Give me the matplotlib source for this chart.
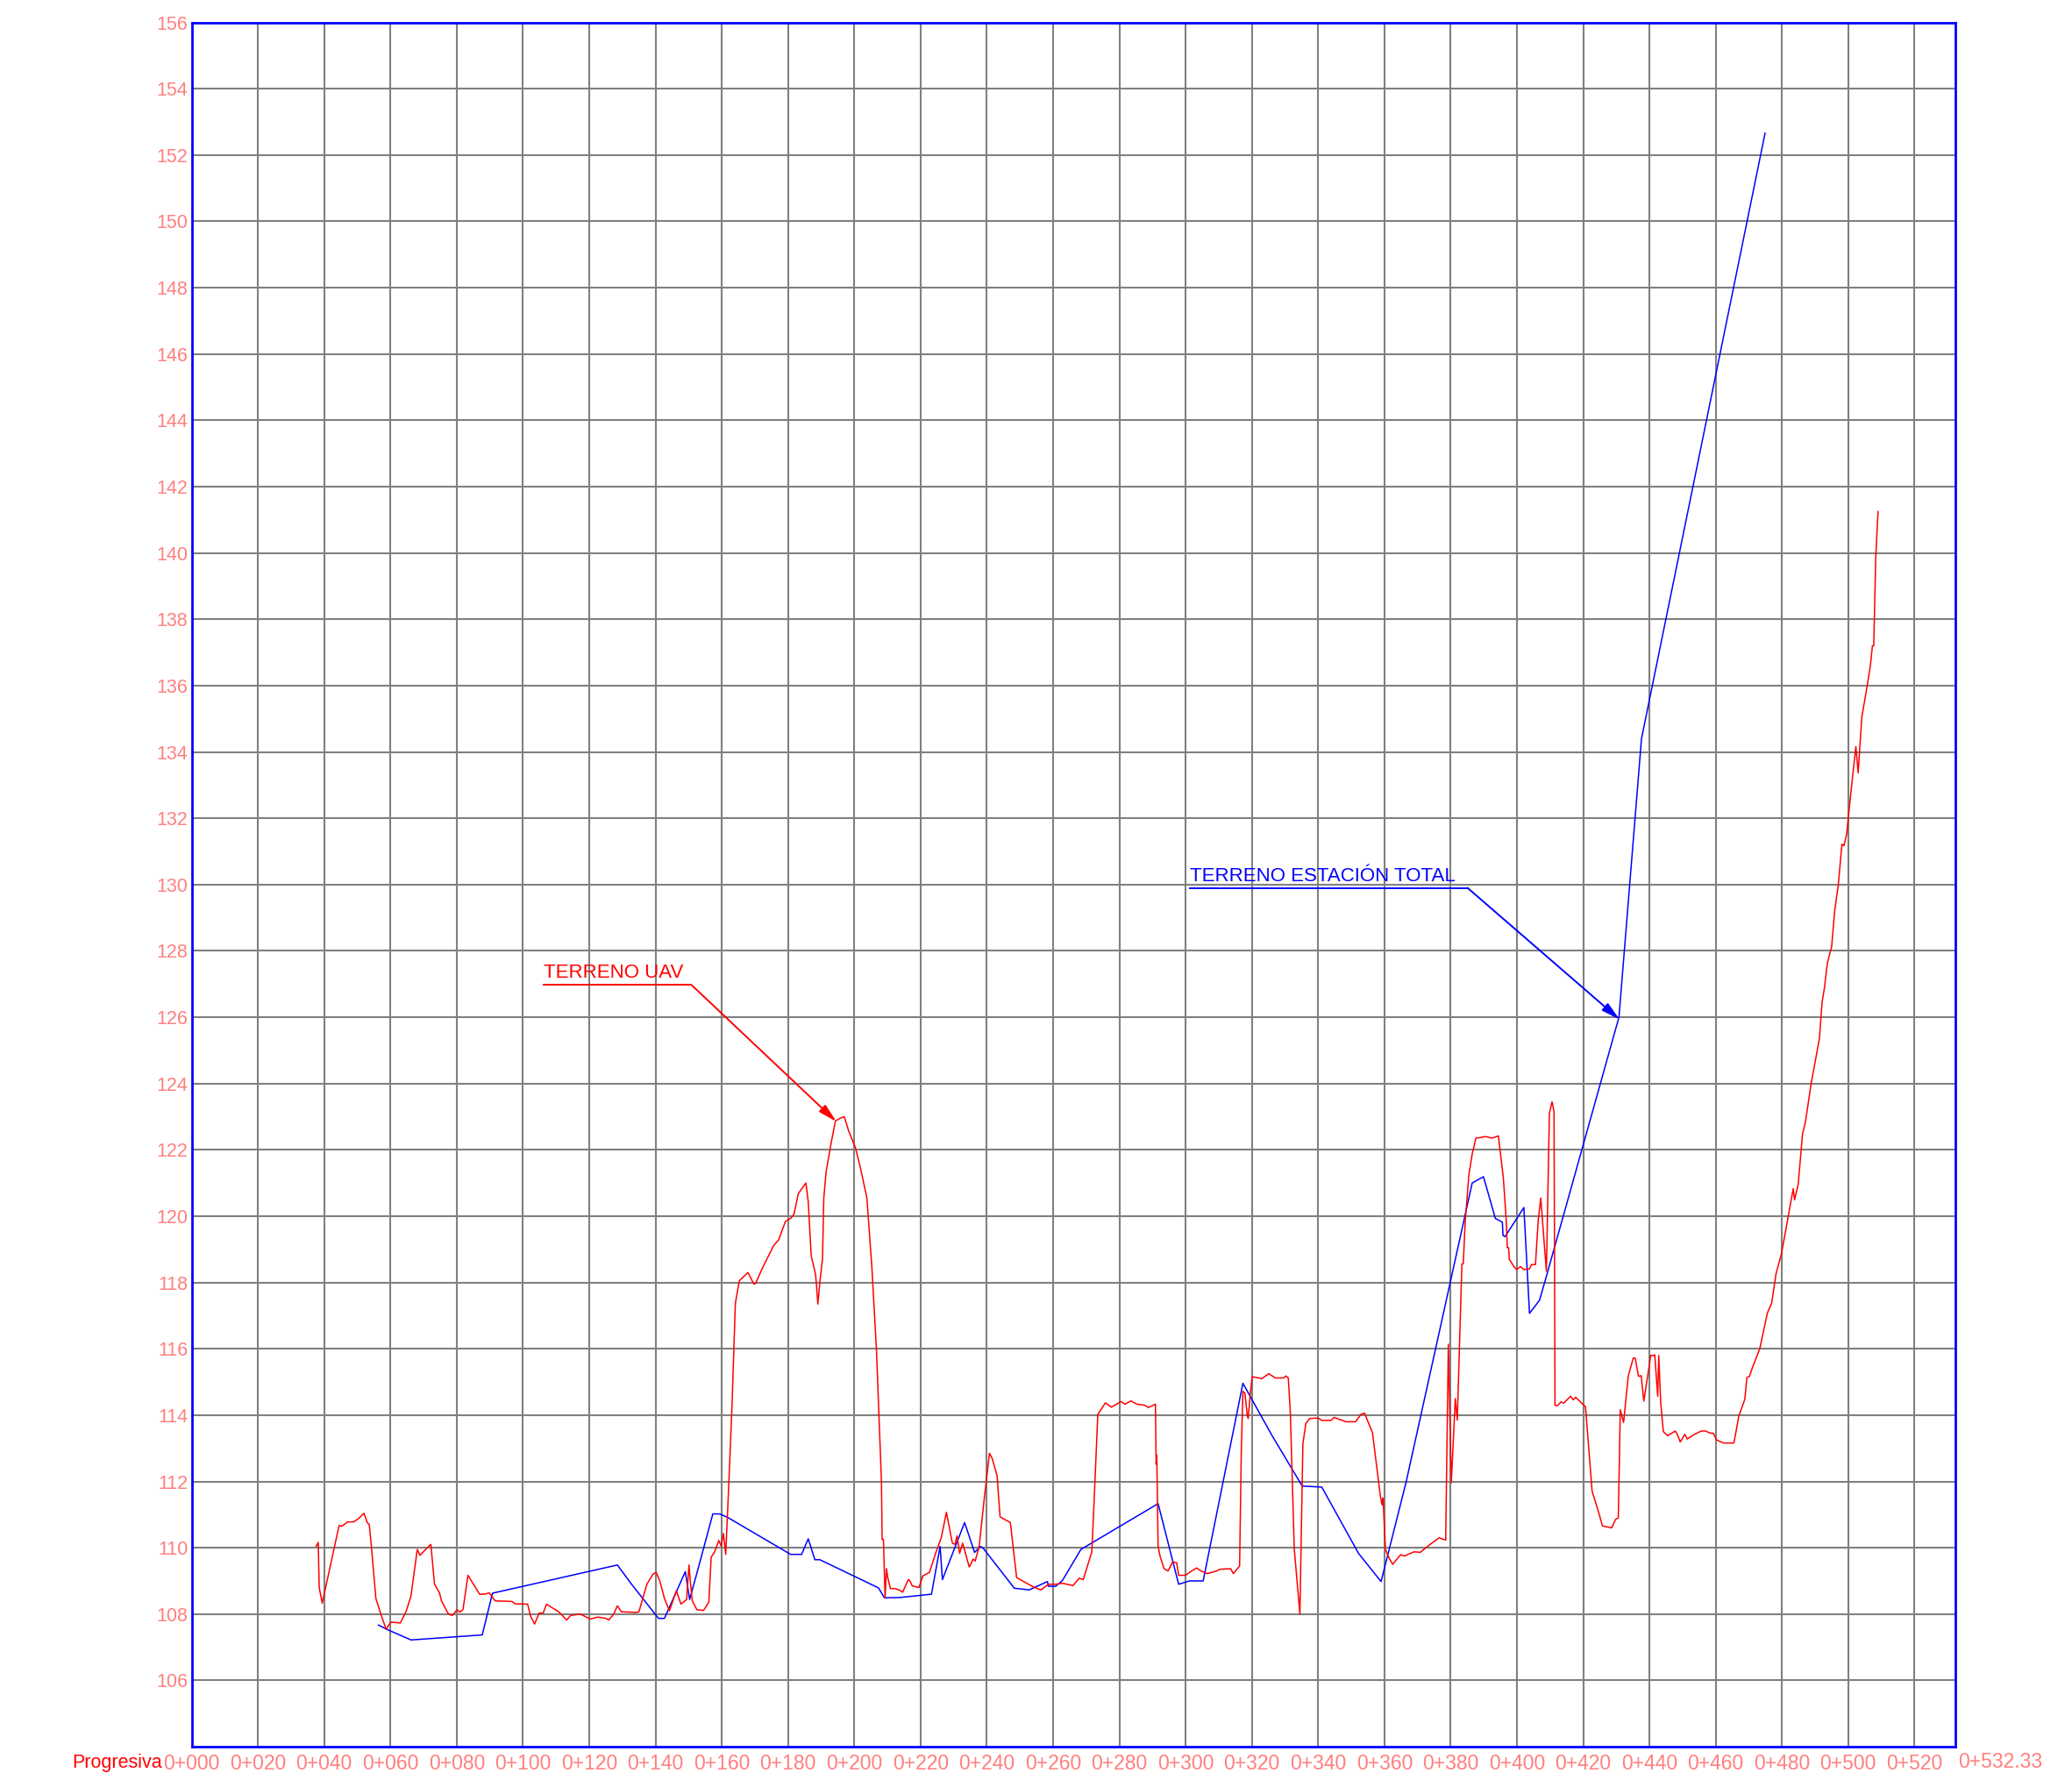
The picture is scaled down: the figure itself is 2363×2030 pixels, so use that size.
import matplotlib
matplotlib.use("Agg")
import matplotlib.pyplot as plt
import numpy as np

plt.rcParams['font.family'] = ['Liberation Sans', 'DejaVu Sans']

# Terreno UAV (red): progresiva [m], cota [m]
uav_x = [37.6, 38.2, 38.5, 39.4, 44.5, 45.3, 47.1, 48.9, 50.6, 52.0, 53.0, 53.6, 54.2, 55.6,
         57.1, 58.7, 59.5, 60.3, 63.0, 64.8, 66.2, 68.1, 68.9, 71.6, 72.2, 73.3, 74.8, 75.4,
         77.5, 78.7, 80.1, 81.0, 81.9, 83.4, 86.9, 88.4, 89.8, 91.6, 96.7, 97.6, 101.4, 102.3,
         103.5, 104.9, 106.1, 107.1, 110.9, 113.2, 114.4, 117.3, 120.3, 122.6, 125.0, 125.9,
         127.4, 128.5, 129.7, 134.2, 135.0, 137.4, 139.2, 140.2, 141.3, 142.7, 144.2, 146.3,
         147.7, 149.4, 150.1, 150.6, 151.1, 152.5, 154.5, 156.1, 156.8, 157.8, 159.1, 159.8,
         160.5, 161.2, 162.2, 163.1, 164.1, 165.3, 167.9, 169.7, 170.2, 172.3, 173.6, 175.7,
         177.2, 179.2, 181.0, 181.8, 183.1, 185.4, 186.1, 187.0, 188.3, 188.6, 189.0, 189.6,
         190.4, 190.8, 191.5, 193.0, 194.3, 195.9, 197.0, 198.3, 200.3, 201.8, 203.8, 205.3,
         206.7, 208.2, 208.4, 208.8, 209.3, 209.7, 210.1, 210.9, 212.3, 213.5, 214.6, 216.3,
         216.8, 217.5, 219.5, 220.7, 222.7, 224.7, 226.3, 227.8, 229.6, 230.4, 231.0, 231.8,
         232.7, 234.7, 235.9, 236.5, 237.7, 239.2, 240.8, 241.6, 243.1, 244.0, 247.1, 249.0,
         254.0, 256.3, 258.7, 260.8, 262.8, 266.0, 267.9, 269.1, 271.7, 272.5, 273.5, 275.8,
         277.6, 280.5, 281.7, 283.5, 285.3, 287.6, 288.8, 290.9, 291.1, 291.3, 291.7, 292.3,
         293.5, 294.7, 296.1, 297.3, 297.9, 300.0, 301.8, 303.3, 304.7, 306.5, 309.4, 310.3,
         313.6, 314.4, 316.3, 316.8, 317.3, 317.9, 318.6, 318.9, 319.5, 320.1, 323.0, 325.1,
         327.1, 329.5, 330.3, 331.0, 331.6, 332.8, 334.5, 335.4, 336.3, 337.5, 340.1, 341.1,
         343.9, 344.8, 348.4, 351.3, 352.9, 354.0, 356.4, 358.8, 359.3, 359.6, 360.3, 360.9,
         361.6, 362.5, 364.9, 366.0, 369.0, 370.8, 372.0, 373.8, 376.5, 378.5, 379.3, 380.2,
         381.4, 382.0, 383.4, 383.8, 384.4, 385.5, 386.5, 387.6, 388.9, 390.3, 391.5, 392.4,
         394.4, 395.9, 396.8, 397.1, 397.5, 397.7, 399.1, 399.9, 401.1, 402.1, 403.8, 404.4,
         405.6, 406.4, 407.2, 408.0, 408.9, 409.8, 410.6, 411.2, 411.5, 412.3, 413.3, 414.1,
         416.2, 417.0, 417.7, 420.7, 422.7, 424.7, 425.8, 428.6, 429.8, 430.6, 431.2, 432.2,
         433.6, 435.1, 435.7, 436.7, 437.5, 438.3, 440.4, 441.3, 441.6, 442.5, 442.8, 443.4,
         444.2, 445.5, 447.8, 448.5, 449.3, 450.7, 451.4, 453.4, 455.6, 457.0, 458.2, 459.3,
         460.3, 462.3, 463.5, 465.5, 467.0, 468.8, 469.4, 470.2, 471.1, 473.3, 475.6, 476.9,
         478.2, 479.8, 481.2, 483.4, 483.8, 484.9, 486.2, 487.1, 488.8, 491.3, 492.1, 492.8,
         493.7, 495.0, 495.9, 497.0, 498.1, 498.7, 499.5, 500.8, 502.3, 503.0, 504.1, 505.7,
         506.7, 507.3, 507.7, 508.3, 509.0]
uav_z = [110.05, 110.16, 108.8, 108.33, 110.67, 110.65, 110.78, 110.78, 110.9, 111.04, 110.76,
         110.7, 110.1, 108.47, 108.0, 107.54, 107.67, 107.76, 107.73, 108.1, 108.55, 109.95,
         109.77, 110.05, 110.1, 108.9, 108.64, 108.4, 108.0, 107.96, 108.13, 108.06, 108.14,
         109.17, 108.6, 108.6, 108.64, 108.4, 108.38, 108.31, 108.3, 107.94, 107.7, 108.03,
         108.03, 108.3, 108.06, 107.82, 107.96, 108.0, 107.85, 107.91, 107.87, 107.82, 108.0,
         108.25, 108.07, 108.05, 108.07, 108.9, 109.2, 109.26, 109.0, 108.47, 108.1, 108.7,
         108.3, 108.44, 109.48, 108.9, 108.4, 108.13, 108.11, 108.36, 109.72, 109.86, 110.22,
         110.05, 110.43, 109.8, 112.1, 114.3, 117.37, 118.05, 118.3, 117.95, 117.97, 118.44,
         118.7, 119.12, 119.29, 119.84, 119.95, 120.06, 120.68, 121.0, 120.44, 118.8, 118.25,
         117.92, 117.35, 118.0, 118.7, 120.55, 121.34, 122.2, 122.87, 122.96, 123.0, 122.57,
         122.08, 121.48, 120.55, 118.47, 115.95, 112.0, 110.25, 110.25, 108.49, 109.37, 109.1,
         108.77, 108.77, 108.73, 108.66, 109.04, 109.0, 108.85, 108.8, 109.15, 109.26, 109.88,
         110.32, 111.07, 110.14, 110.1, 110.36, 109.83, 110.14, 109.42, 109.66, 109.6, 110.05,
         111.46, 112.85, 112.7, 112.17, 110.93, 110.76, 109.1, 108.82, 108.73, 108.9, 108.9,
         108.93, 108.86, 109.08, 109.04, 109.88, 111.68, 114.02, 114.37, 114.24, 114.41, 114.33,
         114.43, 114.33, 114.3, 114.23, 114.33, 112.52, 112.8, 110.05, 109.74, 109.37, 109.3,
         109.57, 109.55, 109.17, 109.17, 109.3, 109.39, 109.3, 109.22, 109.3, 109.35, 109.37,
         109.22, 109.45, 112.87, 114.72, 114.66, 114.0, 113.9, 114.63, 115.16, 115.1, 115.25,
         115.12, 115.12, 115.18, 115.12, 114.1, 109.96, 108.0, 113.14, 113.75, 113.9, 113.91,
         113.84, 113.84, 113.93, 113.8, 113.8, 114.02, 114.06, 113.47, 111.55, 111.29, 111.5,
         109.96, 109.8, 109.66, 109.5, 109.79, 109.75, 109.88, 109.86, 109.96, 110.1, 110.3,
         110.23, 116.14, 111.96, 114.5, 113.85, 118.56, 118.56, 119.84, 121.25, 121.87, 122.35,
         122.37, 122.4, 122.38, 122.35, 122.42, 121.16, 119.84, 119.05, 119.05, 118.7, 118.48,
         118.39, 118.48, 118.39, 118.41, 118.54, 118.54, 119.84, 120.55, 119.49, 118.34, 123.1,
         123.45, 123.15, 114.29, 114.29, 114.4, 114.36, 114.57, 114.46, 114.54, 114.25, 111.7,
         111.06, 110.66, 110.6, 110.86, 110.9, 114.16, 113.78, 115.17, 115.72, 115.72, 115.17,
         115.19, 114.42, 115.8, 115.8, 115.82, 114.57, 115.8, 114.38, 113.5, 113.38, 113.52,
         113.4, 113.19, 113.42, 113.28, 113.41, 113.52, 113.52, 113.46, 113.45, 113.25, 113.16,
         113.16, 113.16, 113.98, 114.48, 115.13, 115.17, 115.44, 116.0, 117.08, 117.38, 118.26,
         118.85, 119.61, 120.83, 120.49, 120.96, 122.48, 122.85, 124.0, 125.35, 126.45, 126.87,
         127.63, 128.13, 129.2, 129.99, 131.22, 131.17, 131.51, 132.78, 134.16, 133.37, 135.05,
         135.98, 136.62, 137.2, 137.2, 139.86, 141.25]

# Terreno estacion total (blue)
et_x = [56.4, 58.9, 66.2, 87.7, 90.8, 128.5, 132.7, 140.9, 142.7, 149.0, 150.3, 153.0, 157.3,
        159.4, 161.7, 180.8, 184.1, 186.1, 188.1, 189.6, 207.3, 209.1, 213.8, 223.3, 225.9,
        226.6, 233.3, 236.3, 238.1, 238.8, 248.3, 252.8, 258.3, 258.6, 260.8, 262.8, 268.4,
        291.7, 297.9, 301.2, 305.3, 317.3, 326.0, 335.2, 341.1, 352.2, 359.0, 366.6, 386.5,
        389.9, 393.5, 395.6, 395.8, 396.4, 402.1, 403.8, 406.8, 408.6, 430.8, 437.6, 474.9]
et_z = [107.67, 107.54, 107.22, 107.37, 108.63, 109.48, 108.91, 107.87, 107.87, 109.28, 108.44,
        109.42, 111.02, 111.02, 110.92, 109.8, 109.8, 110.27, 109.64, 109.64, 108.79, 108.49,
        108.5, 108.6, 110.04, 109.04, 110.76, 109.86, 110.04, 110.0, 108.78, 108.73, 108.98,
        108.84, 108.84, 109.01, 109.95, 111.33, 108.9, 109.0, 109.0, 114.96, 113.4, 111.86,
        111.83, 109.83, 108.98, 112.0, 121.0, 121.19, 119.93, 119.82, 119.42, 119.38, 120.26,
        117.07, 117.46, 118.08, 126.0, 134.4, 152.66]

x_end = 532.33
x_ticks = list(range(0, 521, 20))
x_labels = ["0+%03d" % v for v in x_ticks]
y_ticks = list(range(106, 157, 2))

RED = "#FF0000"
BLUE = "#0000FF"
LABEL = "#FF7F7F"
GRID = "#808080"

fig = plt.figure(figsize=(23.63, 20.30), dpi=100)
ax = fig.add_axes([0.0925, 0.0187, 0.8512, 0.9687])

ax.plot(et_x, et_z, color=BLUE, lw=1.1, zorder=3)
ax.plot(uav_x, uav_z, color=RED, lw=1.1, zorder=4)

ax.set_xlim(0, x_end)
ax.set_ylim(104, 156)
ax.set_xticks(x_ticks)
ax.set_xticklabels(x_labels)
ax.set_yticks(y_ticks)
ax.tick_params(length=0, labelcolor=LABEL)
ax.tick_params(axis='x', pad=6, labelsize=16.5)
ax.tick_params(axis='y', pad=3, labelsize=15.5)
ax.set_axisbelow(True)
ax.grid(True, color=GRID, lw=1.5)
for sp in ax.spines.values():
    sp.set_color(BLUE)
    sp.set_linewidth(2)
    sp.set_zorder(5)

ax.annotate("0+532.33", xy=(x_end, 0), xycoords=('data', 'axes fraction'),
            xytext=(2, -4), textcoords='offset points', ha='left', va='top',
            fontsize=16.5, color=LABEL)
ax.annotate("Progresiva", xy=(0, 0), xycoords=('data', 'axes fraction'),
            xytext=(-24.5, -6), textcoords='offset points', ha='right', va='top',
            fontsize=15.5, color=RED)

# leaders
def leader(text, x0, x1, y, tip, color):
    ax.text(x0, y + 0.08, text, color=color, fontsize=16, ha='left', va='bottom', zorder=6)
    ax.plot([x0, x1], [y, y], color=color, lw=1.4, zorder=6)
    ax.annotate("", xy=tip, xytext=(x1, y),
                arrowprops=dict(arrowstyle='-|>,head_length=0.8,head_width=0.2',
                                mutation_scale=16, color=color, lw=1.4,
                                shrinkA=0, shrinkB=0), zorder=6)

leader("TERRENO UAV", 106.2, 150.8, 126.98, (194.6, 122.85), RED)
leader("TERRENO ESTACIÓN TOTAL", 301.4, 385.1, 129.9, (431.0, 125.93), BLUE)

fig.savefig("out.png", dpi=100)
